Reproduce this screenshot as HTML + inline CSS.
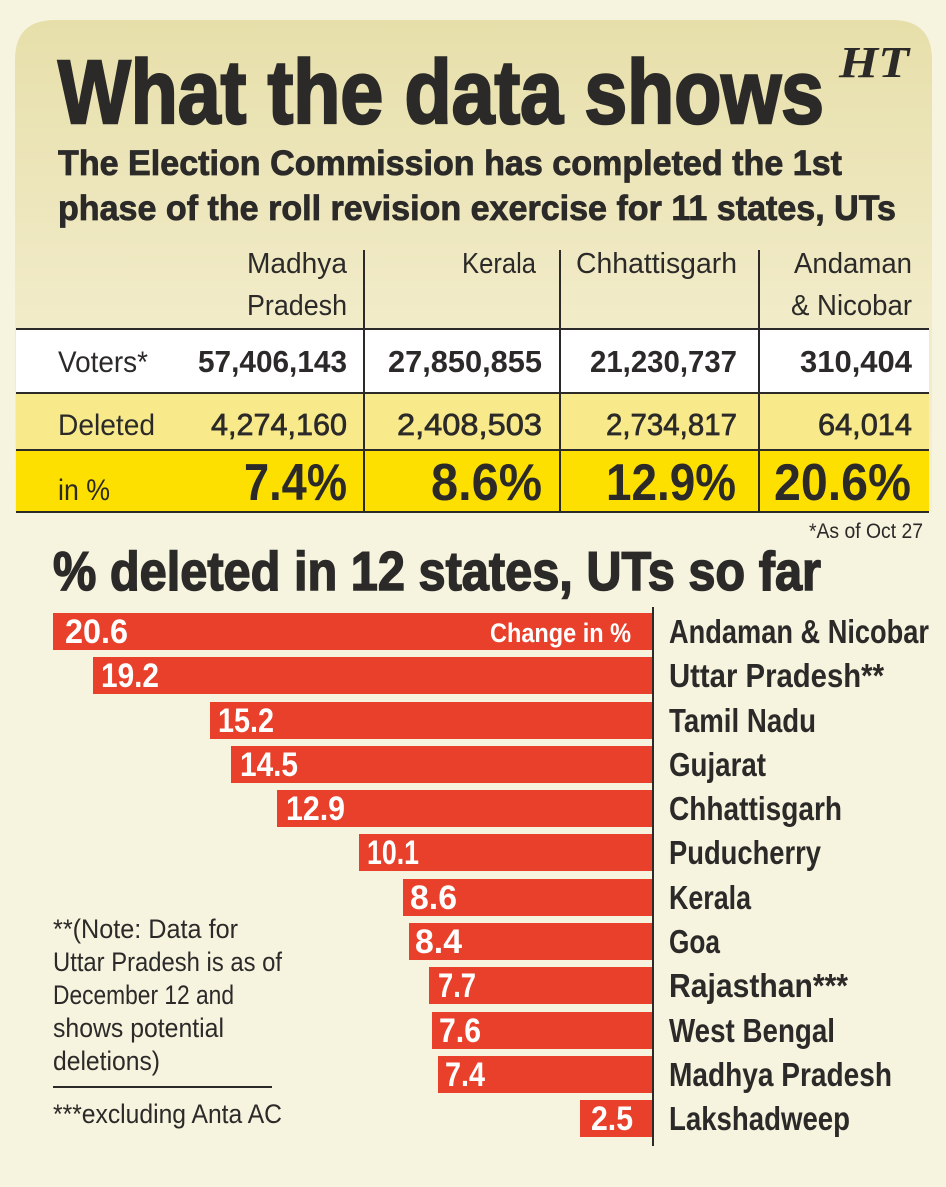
<!DOCTYPE html>
<html><head><meta charset="utf-8"><style>
html,body{margin:0;padding:0;background:#f6f3df;}
svg{display:block;}
text{font-family:"Liberation Sans Narrow","Liberation Sans",sans-serif;fill:#2b2a28;}
.b{font-weight:bold;}
.h{stroke:#2b2a28;stroke-width:2.5;}
</style></head><body>
<svg width="946" height="1187" viewBox="0 0 946 1187" xmlns="http://www.w3.org/2000/svg">
<defs>
<linearGradient id="g" x1="0" y1="0" x2="0" y2="1">
<stop offset="0" stop-color="#e7dfaa"/><stop offset="0.6" stop-color="#f1ebc8"/><stop offset="1" stop-color="#f4efd5"/>
</linearGradient>
</defs>
<rect width="946" height="1187" fill="#f6f3df"/>
<path d="M15,512 L15,60 Q15,20 55,20 L892,20 Q932,20 932,60 L932,512 Z" fill="url(#g)"/>
<text class="b h" x="58" y="123" font-size="90" textLength="766" lengthAdjust="spacingAndGlyphs">What the data shows</text>
<text x="839" y="77" font-weight="bold" font-style="italic" font-size="44" textLength="70" lengthAdjust="spacingAndGlyphs" style="font-family:'Liberation Serif',serif">HT</text>
<text class="b" x="58" y="175" font-size="35" textLength="784" lengthAdjust="spacingAndGlyphs" style="stroke:#2b2a28;stroke-width:0.8">The Election Commission has completed the 1st</text>
<text class="b" x="58" y="220" font-size="35" textLength="838" lengthAdjust="spacingAndGlyphs" style="stroke:#2b2a28;stroke-width:0.8">phase of the roll revision exercise for 11 states, UTs</text>
<g font-size="29">
<text x="347" y="273" text-anchor="end" textLength="100" lengthAdjust="spacingAndGlyphs">Madhya</text>
<text x="347" y="315" text-anchor="end" textLength="100" lengthAdjust="spacingAndGlyphs">Pradesh</text>
<text x="536" y="273" text-anchor="end" textLength="74" lengthAdjust="spacingAndGlyphs">Kerala</text>
<text x="576" y="273" textLength="161" lengthAdjust="spacingAndGlyphs">Chhattisgarh</text>
<text x="912" y="273" text-anchor="end" textLength="118" lengthAdjust="spacingAndGlyphs">Andaman</text>
<text x="912" y="315" text-anchor="end" textLength="121" lengthAdjust="spacingAndGlyphs">&amp; Nicobar</text>
</g>
<rect x="16" y="330" width="913" height="63" fill="#ffffff"/>
<rect x="16" y="393" width="913" height="57" fill="#f8e98b"/>
<rect x="16" y="450" width="913" height="62" fill="#fde000"/>
<g stroke="#2b2a28" stroke-width="2">
<line x1="16" y1="329" x2="929" y2="329"/>
<line x1="16" y1="393" x2="929" y2="393"/>
<line x1="16" y1="450" x2="929" y2="450"/>
<line x1="16" y1="512" x2="929" y2="512"/>
<line x1="364" y1="250" x2="364" y2="512"/>
<line x1="560" y1="250" x2="560" y2="512"/>
<line x1="759" y1="250" x2="759" y2="512"/>
</g>
<g font-size="30">
<text x="58" y="372" textLength="90" lengthAdjust="spacingAndGlyphs">Voters*</text>
<text x="58" y="435" textLength="97" lengthAdjust="spacingAndGlyphs">Deleted</text>
<text x="58" y="500" textLength="52" lengthAdjust="spacingAndGlyphs">in %</text>
</g>
<g font-size="31" text-anchor="end">
<text class="b" x="347" y="372" textLength="149" lengthAdjust="spacingAndGlyphs">57,406,143</text>
<text class="b" x="542" y="372" textLength="154" lengthAdjust="spacingAndGlyphs">27,850,855</text>
<text class="b" x="737" y="372" textLength="147" lengthAdjust="spacingAndGlyphs">21,230,737</text>
<text class="b" x="912" y="372" textLength="112" lengthAdjust="spacingAndGlyphs">310,404</text>
</g>
<g font-size="31" text-anchor="end" style="stroke:#2b2a28;stroke-width:0.7">
<text x="347" y="435" textLength="136" lengthAdjust="spacingAndGlyphs">4,274,160</text>
<text x="542" y="435" textLength="145" lengthAdjust="spacingAndGlyphs">2,408,503</text>
<text x="737" y="435" textLength="131" lengthAdjust="spacingAndGlyphs">2,734,817</text>
<text x="912" y="435" textLength="94" lengthAdjust="spacingAndGlyphs">64,014</text>
</g>
<g font-size="52" text-anchor="end">
<text class="b" x="347" y="500" textLength="103" lengthAdjust="spacingAndGlyphs">7.4%</text>
<text class="b" x="542" y="500" textLength="111" lengthAdjust="spacingAndGlyphs">8.6%</text>
<text class="b" x="736" y="500" textLength="130" lengthAdjust="spacingAndGlyphs">12.9%</text>
<text class="b" x="911" y="500" textLength="137" lengthAdjust="spacingAndGlyphs">20.6%</text>
</g>
<text x="923" y="538" font-size="21" text-anchor="end" textLength="114" lengthAdjust="spacingAndGlyphs">*As of Oct 27</text>
<text class="b" x="53" y="590" font-size="55" textLength="768" lengthAdjust="spacingAndGlyphs" style="stroke:#2b2a28;stroke-width:1.5">% deleted in 12 states, UTs so far</text>
<g fill="#e8402a">
<rect x="53" y="613" width="600" height="37"/>
<rect x="93" y="657" width="560" height="37"/>
<rect x="210" y="702" width="443" height="37"/>
<rect x="231" y="746" width="422" height="37"/>
<rect x="277" y="790" width="376" height="37"/>
<rect x="359" y="834" width="294" height="37"/>
<rect x="403" y="879" width="250" height="37"/>
<rect x="409" y="923" width="244" height="37"/>
<rect x="429" y="967" width="224" height="37"/>
<rect x="432" y="1012" width="221" height="37"/>
<rect x="438" y="1056" width="215" height="37"/>
<rect x="580" y="1100" width="73" height="37"/>
</g>
<line x1="653" y1="607" x2="653" y2="1146" stroke="#2b2a28" stroke-width="2"/>
<g font-size="34">
<text class="b" style="fill:#fff" x="65" y="643" textLength="63" lengthAdjust="spacingAndGlyphs">20.6</text>
<text class="b" style="fill:#fff" x="101" y="687" textLength="58" lengthAdjust="spacingAndGlyphs">19.2</text>
<text class="b" style="fill:#fff" x="218" y="732" textLength="56" lengthAdjust="spacingAndGlyphs">15.2</text>
<text class="b" style="fill:#fff" x="240" y="776" textLength="58" lengthAdjust="spacingAndGlyphs">14.5</text>
<text class="b" style="fill:#fff" x="286" y="820" textLength="59" lengthAdjust="spacingAndGlyphs">12.9</text>
<text class="b" style="fill:#fff" x="367" y="864" textLength="52" lengthAdjust="spacingAndGlyphs">10.1</text>
<text class="b" style="fill:#fff" x="410" y="909" textLength="47" lengthAdjust="spacingAndGlyphs">8.6</text>
<text class="b" style="fill:#fff" x="415" y="953" textLength="47" lengthAdjust="spacingAndGlyphs">8.4</text>
<text class="b" style="fill:#fff" x="438" y="997" textLength="38" lengthAdjust="spacingAndGlyphs">7.7</text>
<text class="b" style="fill:#fff" x="439" y="1042" textLength="42" lengthAdjust="spacingAndGlyphs">7.6</text>
<text class="b" style="fill:#fff" x="445" y="1086" textLength="40" lengthAdjust="spacingAndGlyphs">7.4</text>
<text class="b" style="fill:#fff" x="591" y="1130" textLength="42" lengthAdjust="spacingAndGlyphs">2.5</text>
<text class="b" style="fill:#fff" x="631" y="642" font-size="27" text-anchor="end" textLength="141" lengthAdjust="spacingAndGlyphs">Change in %</text>
</g>
<g font-size="33">
<text class="b" x="669" y="643" textLength="260" lengthAdjust="spacingAndGlyphs">Andaman &amp; Nicobar</text>
<text class="b" x="669" y="687" textLength="215" lengthAdjust="spacingAndGlyphs">Uttar Pradesh**</text>
<text class="b" x="669" y="732" textLength="147" lengthAdjust="spacingAndGlyphs">Tamil Nadu</text>
<text class="b" x="669" y="776" textLength="97" lengthAdjust="spacingAndGlyphs">Gujarat</text>
<text class="b" x="669" y="820" textLength="173" lengthAdjust="spacingAndGlyphs">Chhattisgarh</text>
<text class="b" x="669" y="864" textLength="152" lengthAdjust="spacingAndGlyphs">Puducherry</text>
<text class="b" x="669" y="909" textLength="82" lengthAdjust="spacingAndGlyphs">Kerala</text>
<text class="b" x="669" y="953" textLength="51" lengthAdjust="spacingAndGlyphs">Goa</text>
<text class="b" x="669" y="997" textLength="179" lengthAdjust="spacingAndGlyphs">Rajasthan***</text>
<text class="b" x="669" y="1042" textLength="166" lengthAdjust="spacingAndGlyphs">West Bengal</text>
<text class="b" x="669" y="1086" textLength="223" lengthAdjust="spacingAndGlyphs">Madhya Pradesh</text>
<text class="b" x="669" y="1130" textLength="181" lengthAdjust="spacingAndGlyphs">Lakshadweep</text>
</g>
<g font-size="27">
<text x="53" y="938" textLength="185" lengthAdjust="spacingAndGlyphs">**(Note: Data for</text>
<text x="53" y="971" textLength="229" lengthAdjust="spacingAndGlyphs">Uttar Pradesh is as of</text>
<text x="53" y="1004" textLength="181" lengthAdjust="spacingAndGlyphs">December 12 and</text>
<text x="53" y="1037" textLength="171" lengthAdjust="spacingAndGlyphs">shows potential</text>
<text x="53" y="1070" textLength="107" lengthAdjust="spacingAndGlyphs">deletions)</text>
<text x="53" y="1123" textLength="229" lengthAdjust="spacingAndGlyphs">***excluding Anta AC</text>
</g>
<line x1="53" y1="1087" x2="272" y2="1087" stroke="#2b2a28" stroke-width="2"/>
</svg>
</body></html>
